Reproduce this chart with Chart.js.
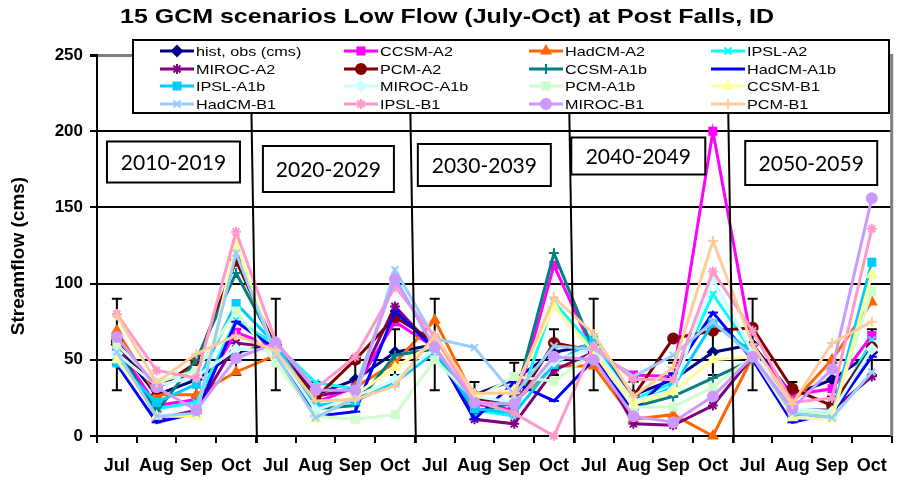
<!DOCTYPE html>
<html>
<head>
<meta charset="utf-8">
<script src="https://cdn.jsdelivr.net/npm/chart.js"></script>
<style>
  body { margin: 0; background: #fff; }
</style>
</head>
<body>
<canvas id="flowChart" width="899" height="481"></canvas>
<script>
// categories
const months = ['Jul', 'Aug', 'Sep', 'Oct'];
const labels = months.concat(months, months, months, months);
const periods = ['2010-2019', '2020-2029', '2030-2039', '2040-2049', '2050-2059'];
const yTicks = [0, 50, 100, 150, 200, 250];

// values (cms), 5 decades x Jul-Oct
const histObs  = [60, 27, 37, 55, 60, 27, 37, 55, 60, 27, 37, 55, 60, 27, 37, 55, 60, 27, 37, 55];
const histErr  = [30, 8.5, 11, 15, 30, 8.5, 11, 15, 30, 8.5, 11, 15, 30, 8.5, 11, 15, 30, 8.5, 11, 15];
const ccsmA2   = [59, 20, 24, 68, 58, 22, 32, 75, 58, 21, 17, 112, 55, 40, 39, 200, 58, 27, 31, 66];
const hadcmA2  = [69, 27, 27, 42, 53, 26, 32, 48, 76, 25, 22, 46, 46, 11, 14, 0, 52, 22, 50, 88];
const ipslA2   = [53, 18, 22, 76, 60, 35, 31, 104, 57, 17, 13, 88, 58, 24, 35, 93, 55, 17, 15, 63];
const mirocA2  = [61, 11, 17, 61, 58, 26, 31, 85, 57, 11, 8, 43, 55, 8, 7, 20, 52, 17, 17, 39];
const pcmA2    = [62, 31, 48, 115, 58, 25, 50, 78, 62, 25, 20, 61, 56, 26, 64, 69, 71, 31, 20, 58];
const ccsmA1b  = [57, 16, 50, 107, 58, 18, 20, 53, 57, 15, 22, 120, 56, 19, 26, 38, 50, 17, 16, 57];
const hadcmA1b = [47, 9, 15, 75, 57, 13, 16, 82, 57, 11, 35, 23, 50, 17, 41, 81, 50, 9, 15, 52];
const ipslA1b  = [48, 22, 34, 87, 60, 20, 23, 35, 55, 18, 15, 47, 63, 21, 32, 74, 55, 14, 14, 114];
const mirocA1b = [54, 33, 39, 57, 56, 17, 26, 37, 57, 26, 22, 49, 58, 23, 30, 103, 55, 18, 16, 57];
const pcmA1b   = [60, 35, 43, 82, 48, 13, 11, 14, 50, 24, 39, 36, 55, 19, 19, 32, 52, 17, 14, 95];
const ccsmB1   = [50, 13, 13, 127, 52, 11, 27, 45, 61, 27, 30, 85, 55, 21, 29, 50, 52, 12, 11, 106];
const hadcmB1  = [55, 13, 15, 120, 53, 12, 25, 109, 64, 58, 27, 59, 57, 39, 53, 75, 52, 15, 12, 42];
const ipslB1   = [80, 43, 38, 134, 62, 31, 52, 98, 65, 23, 15, 0, 59, 37, 37, 108, 69, 22, 25, 136];
const mirocB1  = [65, 32, 17, 51, 61, 30, 30, 103, 58, 22, 21, 52, 50, 13, 9, 26, 52, 18, 44, 156];
const pcmB1    = [79, 35, 54, 66, 56, 23, 24, 33, 66, 28, 28, 91, 67, 26, 45, 128, 60, 21, 61, 75];

// name, values, colour, marker
const series = [
  ['hist, obs (cms)', histObs, '#000080', 'rectRot'],
  ['CCSM-A2', ccsmA2, '#FF00FF', 'rect'],
  ['HadCM-A2', hadcmA2, '#FF6600', 'triangle'],
  ['IPSL-A2', ipslA2, '#00FFFF', 'crossRot'],
  ['MIROC-A2', mirocA2, '#800080', 'star'],
  ['PCM-A2', pcmA2, '#800000', 'circle'],
  ['CCSM-A1b', ccsmA1b, '#008080', 'cross'],
  ['HadCM-A1b', hadcmA1b, '#0000FF', 'line'],
  ['IPSL-A1b', ipslA1b, '#00CCFF', 'rect'],
  ['MIROC-A1b', mirocA1b, '#CCFFFF', 'rectRot'],
  ['PCM-A1b', pcmA1b, '#CCFFCC', 'rect'],
  ['CCSM-B1', ccsmB1, '#FFFF99', 'triangle'],
  ['HadCM-B1', hadcmB1, '#99CCFF', 'crossRot'],
  ['IPSL-B1', ipslB1, '#FF99CC', 'star'],
  ['MIROC-B1', mirocB1, '#CC99FF', 'circle'],
  ['PCM-B1', pcmB1, '#FFCC99', 'cross']
];

const FONT = '"Liberation Sans", Arial, sans-serif';
const TITLE = '15 GCM scenarios Low Flow (July-Oct) at Post Falls, ID';
const Y_TITLE = 'Streamflow (cms)';

// decade label boxes: offset from the decade centre, centre y, size
const boxLayout = [
  { dx: -3, cy: 162, w: 133, h: 41 },
  { dx: -7, cy: 169, w: 131, h: 46 },
  { dx: -10, cy: 165, w: 133, h: 42 },
  { dx: -15, cy: 156, w: 134, h: 37 },
  { dx: -1, cy: 163, w: 132, h: 44 }
];

const datasets = series.map(function (s, i) {
  return {
    label: s[0],
    data: s[1],
    borderColor: s[2],
    backgroundColor: s[2],
    pointBackgroundColor: s[2],
    pointBorderColor: s[2],
    pointStyle: s[3],
    pointRadius: 5,
    pointBorderWidth: 2,
    borderWidth: 3,
    tension: 0,
    clip: false,
    order: series.length - i
  };
});

function markerOpts(style) {
  return { pointStyle: style, radius: 5, rotation: 0, borderWidth: 2 };
}

// text stretched sideways like the source picture
function wideText(ctx, txt, x, y, sx) {
  ctx.save();
  ctx.translate(x, y);
  ctx.scale(sx, 1);
  ctx.fillText(txt, 0, 0);
  ctx.restore();
}

const overlay = {
  id: 'overlay',
  beforeDatasetsDraw(chart) {
    // error bars of the observed series sit under the model lines
    const ctx = chart.ctx, xs = chart.scales.x, ys = chart.scales.y;
    ctx.save();
    ctx.strokeStyle = '#000';
    ctx.lineWidth = 2;
    histObs.forEach(function (v, i) {
      const px = xs.getPixelForValue(i);
      const top = ys.getPixelForValue(v + histErr[i]);
      const bot = ys.getPixelForValue(v - histErr[i]);
      ctx.beginPath();
      ctx.moveTo(px, top); ctx.lineTo(px, bot);
      ctx.moveTo(px - 5, top); ctx.lineTo(px + 5, top);
      ctx.moveTo(px - 5, bot); ctx.lineTo(px + 5, bot);
      ctx.stroke();
    });
    ctx.restore();
  },
  afterDraw(chart) {
    const ctx = chart.ctx, xs = chart.scales.x, area = chart.chartArea;
    ctx.save();

    // plot area right border
    ctx.strokeStyle = '#808080';
    ctx.lineWidth = 3;
    ctx.beginPath();
    ctx.moveTo(area.right, area.top - 1);
    ctx.lineTo(area.right, area.bottom);
    ctx.stroke();

    // title
    ctx.fillStyle = '#000';
    ctx.font = 'bold 21px ' + FONT;
    ctx.textAlign = 'center';
    ctx.textBaseline = 'middle';
    wideText(ctx, TITLE, 447, 17, 1.19);

    // y axis title
    ctx.save();
    ctx.translate(19, 256);
    ctx.rotate(-Math.PI / 2);
    ctx.font = 'bold 19px ' + FONT;
    ctx.fillText(Y_TITLE, 0, 0);
    ctx.restore();

    // decade separators
    ctx.strokeStyle = '#000';
    ctx.lineWidth = 2;
    for (let p = 1; p < periods.length; p++) {
      const b = (xs.getPixelForValue(p * 4 - 1) + xs.getPixelForValue(p * 4)) / 2;
      ctx.beginPath();
      ctx.moveTo(b - 4.5, 113);
      ctx.lineTo(b + 1, area.bottom + 7);
      ctx.stroke();
    }

    // decade label boxes
    ctx.font = '21px Lato, "Open Sans", sans-serif';
    periods.forEach(function (txt, p) {
      const c = (xs.getPixelForValue(p * 4 + 1) + xs.getPixelForValue(p * 4 + 2)) / 2 + boxLayout[p].dx;
      const bx = boxLayout[p];
      ctx.fillStyle = '#fff';
      ctx.fillRect(c - bx.w / 2, bx.cy - bx.h / 2, bx.w, bx.h);
      ctx.strokeStyle = '#000';
      ctx.lineWidth = 2;
      ctx.strokeRect(c - bx.w / 2, bx.cy - bx.h / 2, bx.w, bx.h);
      ctx.fillStyle = '#000';
      ctx.fillText(txt, c, bx.cy + 1);
    });

    // legend
    ctx.fillStyle = '#fff';
    ctx.fillRect(133, 40, 756, 73);
    ctx.strokeStyle = '#000';
    ctx.lineWidth = 2;
    ctx.strokeRect(133, 40, 756, 73);
    ctx.font = '13.5px ' + FONT;
    ctx.textAlign = 'left';
    const colX = [160, 344, 529, 711];
    const rowY = [51, 69, 86, 104];
    series.forEach(function (s, i) {
      const lx = colX[i % 4], ly = rowY[Math.floor(i / 4)];
      ctx.strokeStyle = s[2];
      ctx.fillStyle = s[2];
      ctx.lineWidth = 3;
      ctx.beginPath();
      ctx.moveTo(lx, ly); ctx.lineTo(lx + 34, ly);
      ctx.stroke();
      ctx.lineWidth = 2;
      if (Chart.helpers && Chart.helpers.drawPoint) {
        Chart.helpers.drawPoint(ctx, markerOpts(s[3]), lx + 17, ly);
      }
      ctx.fillStyle = '#000';
      wideText(ctx, s[0], lx + 36, ly + 1, 1.2);
    });
    ctx.restore();
  }
};

const ctxFlow = document.getElementById('flowChart').getContext('2d');
const flowChart = new Chart(ctxFlow, {
  type: 'line',
  data: { labels: labels, datasets: datasets },
  plugins: [overlay],
  options: {
    responsive: false,
    animation: false,
    layout: { padding: { top: 55, right: 2, left: 0, bottom: 0 } },
    plugins: {
      legend: { display: false },
      tooltip: { enabled: false },
      title: { display: false }
    },
    scales: {
      x: {
        offset: true,
        border: { color: '#000', width: 2 },
        grid: { offset: true, drawOnChartArea: false, color: '#000', tickColor: '#000', tickLength: 7, lineWidth: 2 },
        ticks: { color: '#000', padding: 12, maxRotation: 0, autoSkip: false, font: { family: FONT, size: 18, weight: 'bold' } },
        afterFit: function (scale) { scale.height = 45; }
      },
      y: {
        min: 0,
        max: 250,
        afterBuildTicks: function (scale) { scale.ticks = yTicks.map(function (v) { return { value: v }; }); },
        border: { color: '#000', width: 2 },
        grid: {
          color: function (c) { return c.tick && c.tick.value === 250 ? '#808080' : '#000'; },
          lineWidth: function (c) { return c.tick && c.tick.value === 250 ? 3 : 2; },
          tickColor: '#000',
          tickLength: 7
        },
        ticks: { color: '#000', padding: 7, font: { family: FONT, size: 17, weight: 'bold' } },
        afterFit: function (scale) { scale.width = 97; }
      }
    }
  }
});
</script>
</body>
</html>
